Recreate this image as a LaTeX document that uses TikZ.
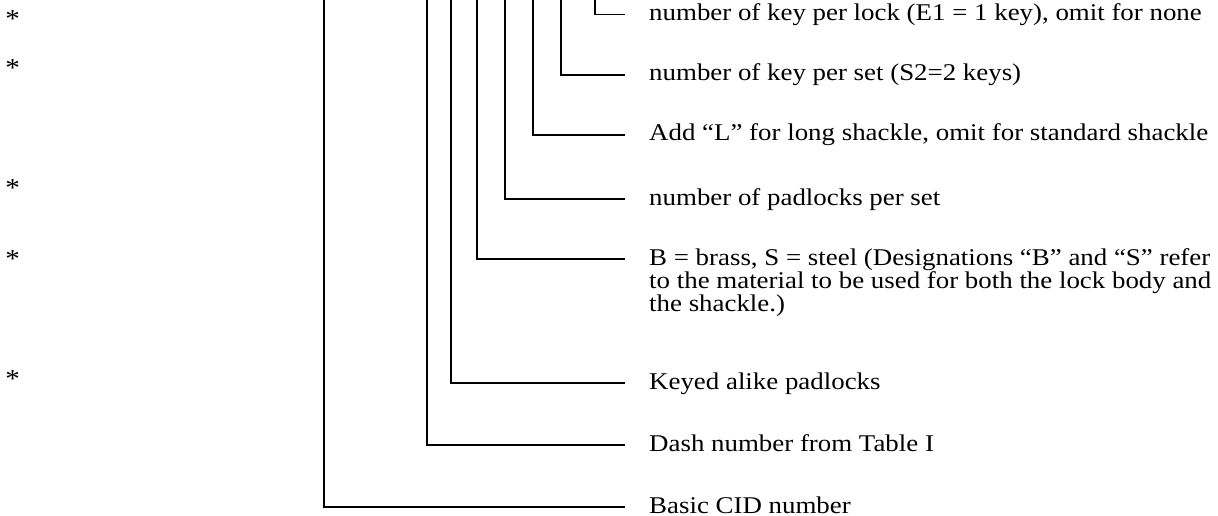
\documentclass[tikz,border=0pt]{standalone}
\usepackage{fontspec}
\setmainfont{Liberation Serif}[FakeStretch=1.12]
\begin{document}
\begin{tikzpicture}[x=1pt,y=-1pt,
  lbl/.style={anchor=base west,inner sep=0pt,font=\fontsize{24}{23}\selectfont,align=left},
  star/.style={anchor=base,inner sep=0pt,font=\fontsize{26}{26}\selectfont},
  lead/.style={line width=1.4pt,black}]
\useasboundingbox (0,0) rectangle (1218,516);
% labels
\node[lbl] (t1) at (649,20.7) {number of key per lock (E1 = 1 key), omit for none};
\node[lbl] (t2) at (649,81) {number of key per set (S2=2 keys)};
\node[lbl] (t3) at (649,141) {Add ``L'' for long shackle, omit for standard shackle};
\node[lbl] (t4) at (649,205) {number of padlocks per set};
% multi-line: base anchor is the last line's baseline
\node[lbl] (t5) at (649,311) {B = brass, S = steel (Designations ``B'' and ``S'' refer\\to the material to be used for both the lock body and\\the shackle.)};
\node[lbl] (t6) at (649,389) {Keyed alike padlocks};
\node[lbl] (t7) at (649,451) {Dash number from Table I};
\node[lbl] (t8) at (649,513) {Basic CID number};
% asterisks
\node[star] (s1) at (12.7,27.9) {*};
\node[star] (s2) at (12.7,76.2) {*};
\node[star] (s3) at (12.7,196.2) {*};
\node[star] (s4) at (12.7,267.9) {*};
\node[star] (s5) at (12.7,387.9) {*};
% tops of leader lines
\coordinate (v1) at (595,0);
\coordinate (v2) at (561,0);
\coordinate (v3) at (533,0);
\coordinate (v4) at (505,0);
\coordinate (v5) at (477,0);
\coordinate (v6) at (451,0);
\coordinate (v7) at (427,0);
\coordinate (v8) at (324,0);
% leaders
\foreach \i in {1,2,3,4,6,7,8}{
  \draw[lead] (v\i) |- ([xshift=-24pt,yshift=6pt]t\i.base west);
}
\draw[lead] (v5) |- ([xshift=-24pt,yshift=52pt]t5.base west);
\end{tikzpicture}
\end{document}
